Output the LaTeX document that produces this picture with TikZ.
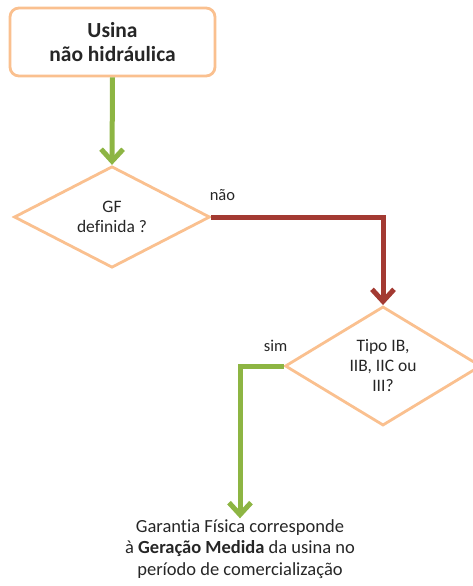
\documentclass[tikz,border=0pt]{standalone}
\usepackage{fontspec}
\setmainfont{Carlito}[Ligatures=CommonOff]
\usetikzlibrary{shapes.geometric,arrows.meta,positioning}
\definecolor{boxorange}{HTML}{FAC08F}
\definecolor{arrowgreen}{HTML}{8DB543}
\definecolor{arrowred}{HTML}{A33A32}
\definecolor{textgray}{HTML}{262626}

\begin{document}
\begin{tikzpicture}[x=1pt, y=-1pt,
                        startbox/.style={
                            draw=boxorange,
                            line width=2.8pt,
                            rounded corners=9pt,
                            fill=white,
                            minimum width=205pt,
                            minimum height=68pt,
                            align=center,
                            text=textgray,
                            font=\fontsize{21.5}{24}\selectfont\bfseries
                        },
                        decision/.style={
                            diamond,
                            draw=boxorange,
                            line width=2.8pt,
                            fill=white,
                            minimum width=196pt,
                            minimum height=99pt,
                            inner sep=0pt,
                            align=center,
                            text=textgray,
                            font=\fontsize{17.5}{20}\selectfont
                        },
                        lbl/.style={
                            text=textgray,
                            font=\fontsize{16.5}{20}\selectfont
                        },
                        yesarrow/.style={
                            draw=arrowgreen,
                            line width=5pt,
                            -{Straight Barb[length=12pt,width=22pt]}
                        },
                        noarrow/.style={
                            draw=arrowred,
                            line width=5pt,
                            -{Straight Barb[length=12pt,width=22pt]}
                        }
                    ]

                    \useasboundingbox (0,0) rectangle (473,586);

                    % Start (rounded box, top-left)
                    \node[startbox] (usina) at (112.5,42) {Usina\\n\~ao hidr\'aulica};

                    % First decision
                    \node[decision] (gf) at (112,217) {GF\\definida ?};

                    % Second decision (right, partly off the page)
                    \node[decision] (tipo) at (383,366) {Tipo IB,\\IIB, IIC ou\\III?};

                    % Result text (no frame)
                    \node[align=center, text=textgray,
                        font=\fontsize{18.5}{21.5}\selectfont,
                        inner sep=1pt
                    ] (resultado) at (240,549)
                        {Garantia F\'isica corresponde\\
                         \`a \textbf{Gera\c c\~ao Medida} da usina no\\
                         per\'iodo de comercializa\c c\~ao};

                    % Labels of the branches
                    \node[lbl] (naolbl) at ([xshift=11pt, yshift=22pt] gf.east) {n\~ao};
                    \node[lbl] (simlbl) at ([xshift=-8pt, yshift=20pt] tipo.west) {sim};

                    % Connectors
                    \draw[yesarrow] (usina.south) -- (gf.north);
                    \draw[noarrow] (gf.east) -| (tipo.north);
                    \draw[yesarrow] (tipo.west) -| (resultado.north);
                    \end{tikzpicture}
\end{document}
